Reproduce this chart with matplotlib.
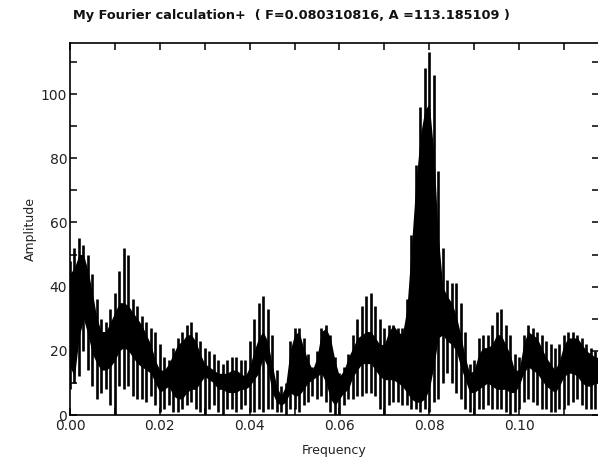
import matplotlib
matplotlib.use("Agg")
import matplotlib.pyplot as plt
from matplotlib.ticker import MultipleLocator
import numpy as np

# Frequency grid (step 0.001) and envelopes
freq_thousandths = list(range(0, 119))
core_top = [44, 46, 50, 50, 45, 38, 30, 26, 26, 29, 32, 35, 35, 34, 32, 30, 28, 25, 22, 17,
            14, 14, 16, 19, 22, 23, 25, 25, 23, 19, 16, 15, 14, 13, 13, 13, 14, 14, 13, 12,
            15, 20, 24, 26, 23, 16, 9, 6, 9, 20, 25, 26, 21, 17, 14, 18, 26, 27, 24, 17,
            12, 14, 18, 21, 24, 25, 26, 26, 24, 22, 22, 26, 28, 26, 25, 33, 52, 72, 87, 95,
            97, 82, 56, 40, 37, 35, 31, 25, 18, 13, 14, 19, 21, 21, 22, 25, 25, 22, 19, 14,
            14, 22, 26, 25, 24, 21, 18, 16, 14, 17, 22, 24, 24, 24, 22, 20, 19, 18, 18]
core_bot = [15, 12, 24, 30, 25, 19, 16, 14, 14, 15, 17, 20, 21, 20, 18, 16, 15, 14, 13, 10,
            7, 8, 9, 6, 5, 5, 7, 8, 8, 10, 12, 11, 10, 8, 8, 7, 7, 7, 8, 8,
            9, 11, 13, 18, 15, 7, 4, 3, 4, 7, 6, 6, 8, 10, 11, 12, 13, 10, 5, 3,
            5, 7, 8, 12, 14, 16, 16, 16, 14, 12, 11, 11, 11, 10, 9, 7, 5, 4, 4, 5,
            8, 15, 24, 25, 23, 22, 20, 15, 11, 7, 7, 8, 9, 10, 9, 8, 8, 8, 7, 7,
            9, 13, 15, 14, 13, 11, 9, 8, 7, 9, 12, 13, 13, 12, 10, 9, 9, 10, 10]
spike_top = [48, 52, 55, 53, 50, 44, 36, 30, 29, 33, 38, 45, 52, 50, 36, 34, 31, 29, 27, 26,
             22, 18, 17, 21, 24, 26, 28, 29, 26, 23, 21, 20, 19, 17, 16, 17, 18, 18, 17, 17,
             23, 30, 35, 37, 33, 25, 14, 9, 10, 23, 27, 27, 24, 19, 15, 20, 27, 28, 25, 18,
             13, 15, 19, 25, 30, 34, 37, 38, 34, 30, 27, 28, 28, 27, 27, 36, 56, 78, 96, 108,
             113, 106, 76, 52, 42, 41, 41, 35, 26, 16, 17, 24, 25, 25, 28, 32, 33, 28, 25, 19,
             18, 25, 28, 27, 26, 25, 23, 22, 21, 22, 25, 26, 26, 25, 24, 22, 21, 20, 20]
spike_bot = [8, 10, 12, 20, 14, 9, 5, 7, 8, 3, 0, 9, 8, 9, 6, 5, 5, 4, 6, 3,
             1, 2, 3, 1, 1, 2, 3, 4, 2, 1, 0, 2, 3, 1, 0, 2, 2, 1, 2, 3,
             1, 1, 2, 1, 2, 2, 1, 1, 0, 2, 2, 1, 3, 4, 6, 5, 6, 4, 1, 0,
             0, 3, 5, 5, 6, 6, 7, 7, 6, 2, 0, 3, 4, 4, 3, 3, 2, 2, 1, 2,
             1, 4, 5, 10, 13, 10, 7, 5, 2, 1, 0, 2, 2, 3, 2, 2, 2, 1, 0, 1,
             2, 4, 5, 4, 3, 2, 2, 1, 1, 2, 2, 3, 4, 5, 3, 2, 2, 2, 3]

x_major = [0.00, 0.02, 0.04, 0.06, 0.08, 0.10]
x_labels = ["0.00", "0.02", "0.04", "0.06", "0.08", "0.10"]
y_major = [0, 20, 40, 60, 80, 100]

title_text = "My Fourier calculation+  ( F=0.080310816, A =113.185109 )"

freq = np.array(freq_thousandths) / 1000.0

W, H = 598, 461
fig = plt.figure(figsize=(W / 100, H / 100), dpi=100)
ax = fig.add_axes([70 / W, (461 - 415) / H, 529 / W, (415 - 43) / H])

ax.fill_between(freq, core_bot, core_top, color="black", lw=0, zorder=2)
ax.vlines(freq, spike_bot, spike_top, color="black", lw=1.9, zorder=2)

ax.set_xlim(0, 0.1178)
ax.set_ylim(0, 115.9)

ax.set_xticks(x_major)
ax.set_xticklabels(x_labels)
ax.xaxis.set_minor_locator(MultipleLocator(0.01))
ax.set_yticks(y_major)
ax.yaxis.set_minor_locator(MultipleLocator(10))

ax.tick_params(which="both", direction="in", top=True, right=True, length=5, width=1.1,
               color="black")
ax.tick_params(axis="y", which="major", labelsize=10, labelcolor="#222222", pad=2)
ax.tick_params(axis="x", which="major", labelsize=10, labelcolor="#222222", pad=3)
for s in ax.spines.values():
    s.set_linewidth(1.2)
    s.set_color("black")

ax.set_xlabel("Frequency", fontsize=9, color="#222222", labelpad=8)
ax.set_ylabel("Amplitude", fontsize=9, color="#222222", labelpad=3)

fig.text(291.5 / W, 1 - 16 / H, title_text, ha="center", va="center",
         fontsize=9.3, fontweight="bold", family="DejaVu Sans", color="#111111")

fig.savefig("out.png", dpi=100)
